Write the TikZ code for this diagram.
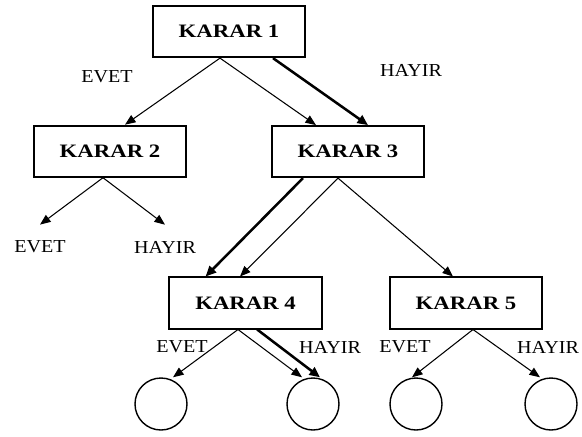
\documentclass[tikz,border=0pt]{standalone}
\usepackage{fontspec}
\setmainfont{Liberation Serif}[FakeStretch=1.1, BoldFeatures={FakeStretch=1.2}]
\usetikzlibrary{arrows.meta}

\begin{document}
\begin{tikzpicture}[
  karar/.style={draw, line width=1.3pt, minimum width=3.82cm, minimum height=1.28cm,
    font=\fontsize{13.5}{16}\selectfont\bfseries},
  sonuc/.style={draw, circle, line width=1pt, minimum size=1.3cm, inner sep=0pt},
  etiket/.style={font=\fontsize{13}{15}\selectfont, inner sep=0pt},
  ok/.style={-{Triangle[length=7.5pt,width=6pt]}, line width=0.75pt},
  kalin/.style={-{Triangle[length=7.5pt,width=6.5pt]}, line width=1.8pt}]
\useasboundingbox (0,0) rectangle (14.55,-10.9);

\node[karar] (karar-1) at (5.725,-0.79) {KARAR 1};
\node[karar] (karar-2) at (2.75,-3.78)  {KARAR 2};
\node[karar] (karar-3) at (8.7,-3.79)   {KARAR 3};
\node[karar] (karar-4) at (6.14,-7.575) {KARAR 4};
\node[karar] (karar-5) at (11.65,-7.575) {KARAR 5};

\node[etiket] (evet-1)  at (2.675,-1.925) {EVET};
\node[etiket] (hayir-1) at (10.275,-1.75) {HAYIR};
\node[etiket] (evet-2)  at (1.0,-6.175)   {EVET};
\node[etiket] (hayir-2) at (4.125,-6.175) {HAYIR};
\node[etiket] (evet-4)  at (4.55,-8.675)  {EVET};
\node[etiket] (hayir-4) at (8.25,-8.675)  {HAYIR};
\node[etiket] (evet-5)  at (10.125,-8.675) {EVET};
\node[etiket] (hayir-5) at (13.7,-8.675)  {HAYIR};

\node[sonuc] (son-1) at (4.025,-10.1) {};
\node[sonuc] (son-2) at (7.825,-10.1) {};
\node[sonuc] (son-3) at (10.4,-10.1)  {};
\node[sonuc] (son-4) at (13.775,-10.1) {};

% karar 1
\draw[ok] ([xshift=-0.225cm]karar-1.south) -- ([xshift=0.375cm]karar-2.north);
\draw[ok] ([xshift=-0.225cm]karar-1.south) -- ([xshift=-0.8cm]karar-3.north);
\draw[kalin] ([xshift=1.1cm]karar-1.south) -- ([xshift=0.5cm]karar-3.north);
% karar 2
\draw[ok] ([xshift=-0.175cm]karar-2.south) -- ([yshift=0.4cm]evet-2.north);
\draw[ok] ([xshift=-0.175cm]karar-2.south) -- ([yshift=0.4cm]hayir-2.north);
% karar 3
\draw[kalin] ([xshift=-1.125cm]karar-3.south) -- ([xshift=-1.0cm]karar-4.north);
\draw[ok] ([xshift=-0.25cm]karar-3.south) -- ([xshift=-0.14cm]karar-4.north);
\draw[ok] ([xshift=-0.25cm]karar-3.south) -- ([xshift=-0.325cm]karar-5.north);
% karar 4
\draw[ok] ([xshift=-0.19cm]karar-4.south) -- ([xshift=0.3cm]son-1.north);
\draw[ok] ([xshift=-0.19cm]karar-4.south) -- ([xshift=-0.275cm]son-2.north);
\draw[kalin] ([xshift=0.29cm]karar-4.south) -- ([xshift=0.175cm]son-2.north);
% karar 5
\draw[ok] ([xshift=0.175cm]karar-5.south) -- ([xshift=-0.1cm]son-3.north);
\draw[ok] ([xshift=0.175cm]karar-5.south) -- ([xshift=-0.275cm]son-4.north);
\end{tikzpicture}
\end{document}
